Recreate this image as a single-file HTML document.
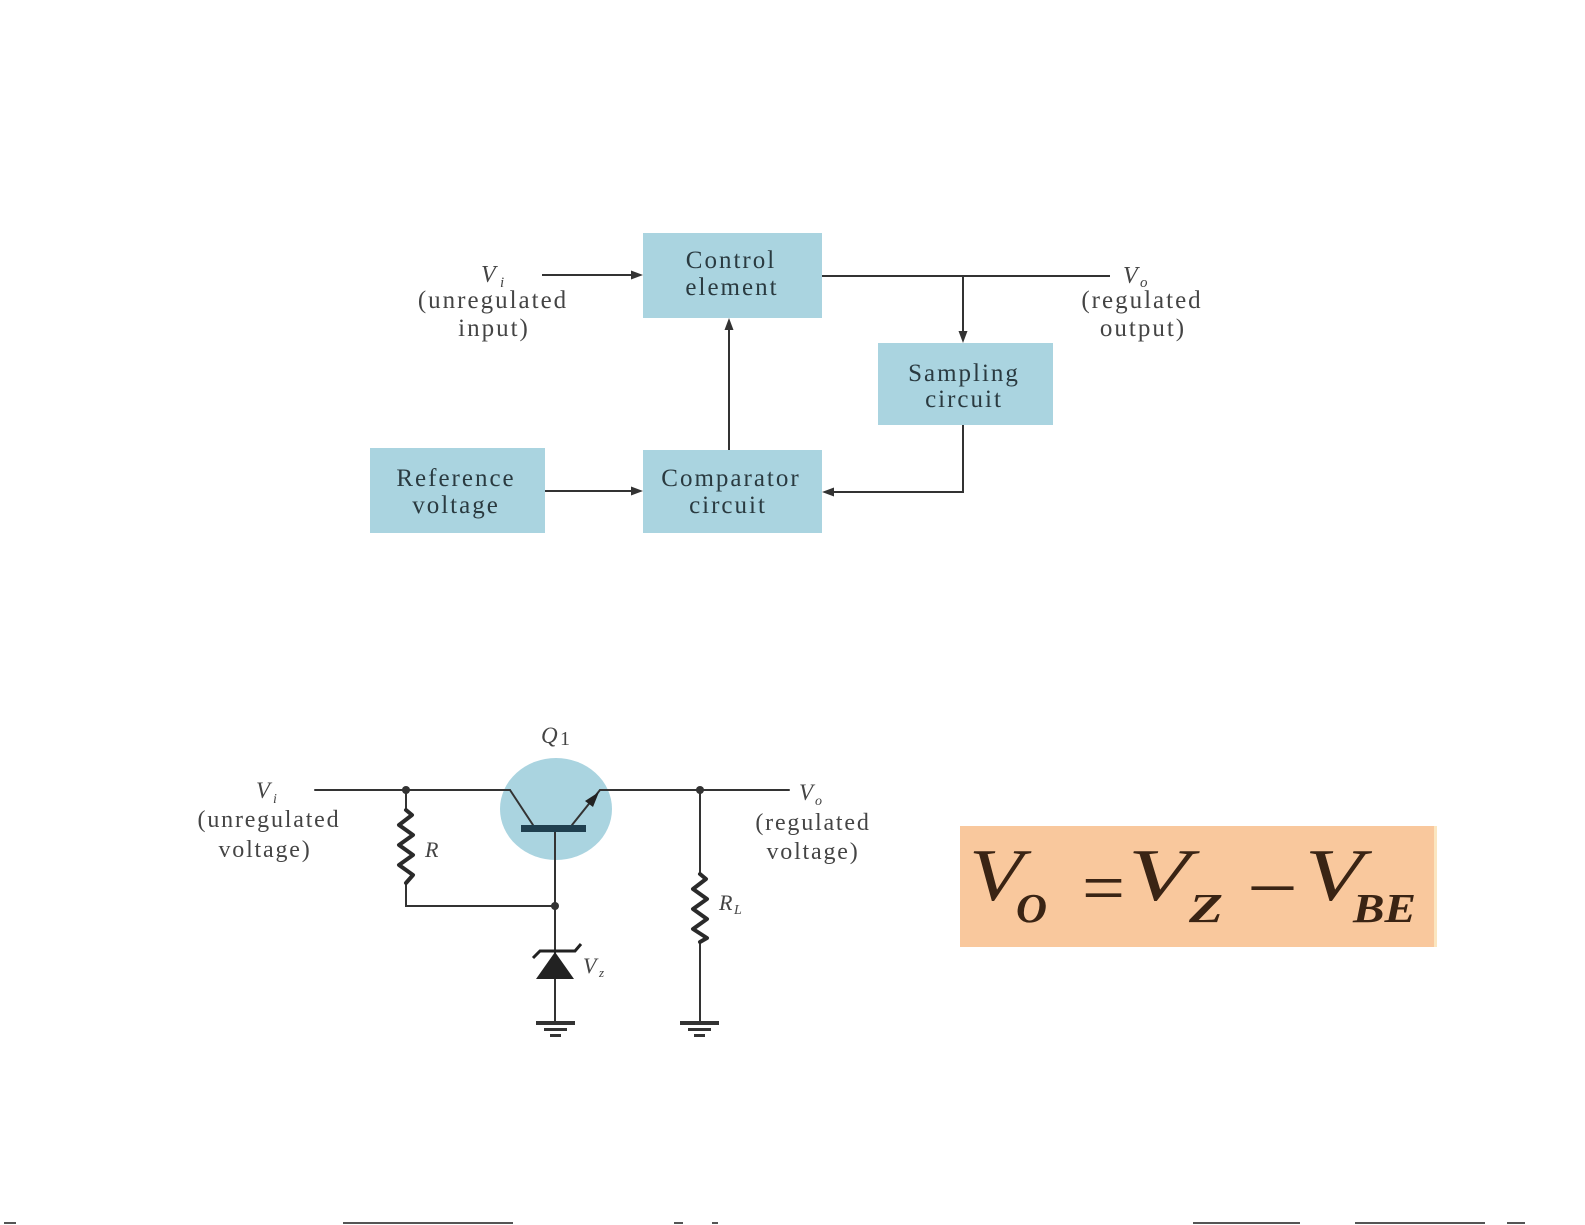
<!DOCTYPE html>
<html>
<head>
<meta charset="utf-8">
<style>
  html, body { margin:0; padding:0; background:#ffffff; }
  body { width:1585px; height:1225px; overflow:hidden; }
  svg { display:block; }
  .bt { font-family:"Liberation Serif", serif; font-size:25px; letter-spacing:2px; fill:#2a3a40; }
  .lb { font-family:"Liberation Serif", serif; font-size:25px; letter-spacing:2px; fill:#444; }
  .cl { font-family:"Liberation Serif", serif; font-size:24px; letter-spacing:1.8px; fill:#444; }
  .it { font-family:"Liberation Serif", serif; font-style:italic; fill:#444; }
  .fx { font-family:"Liberation Serif", serif; font-style:italic; fill:#3a2414; }
  .fn { font-family:"Liberation Serif", serif; fill:#3a2414; }
  .fs { font-family:"Liberation Serif", serif; font-style:italic; font-weight:bold; fill:#3a2414; }
</style>
</head>
<body>
<svg width="1585" height="1225" viewBox="0 0 1585 1225" xmlns="http://www.w3.org/2000/svg">
  <rect x="0" y="0" width="1585" height="1225" fill="#ffffff"/>

  <!-- ================= BLOCK DIAGRAM ================= -->
  <g fill="#aad4e0">
    <rect x="643" y="233" width="179" height="85"/>
    <rect x="878" y="343" width="175" height="82"/>
    <rect x="370" y="448" width="175" height="85"/>
    <rect x="643" y="450" width="179" height="83"/>
  </g>

  <g stroke="#333" stroke-width="2" fill="none">
    <line x1="542" y1="275" x2="633" y2="275"/>
    <line x1="822" y1="276" x2="1110" y2="276"/>
    <line x1="963" y1="276" x2="963" y2="333"/>
    <polyline points="963,425 963,492 832,492"/>
    <line x1="545" y1="491" x2="633" y2="491"/>
    <line x1="729" y1="450" x2="729" y2="328"/>
  </g>
  <g fill="#333">
    <polygon points="643,275 631,270.5 631,279.5"/>
    <polygon points="963,343 958.5,331 967.5,331"/>
    <polygon points="822,492 834,487.5 834,496.5"/>
    <polygon points="643,491 631,486.5 631,495.5"/>
    <polygon points="729,318 724.5,330 733.5,330"/>
  </g>

  <!-- box labels -->
  <text class="bt" x="731" y="268" text-anchor="middle">Control</text>
  <text class="bt" x="732" y="295" text-anchor="middle">element</text>
  <text class="bt" x="964" y="381" text-anchor="middle">Sampling</text>
  <text class="bt" x="964" y="407" text-anchor="middle">circuit</text>
  <text class="bt" x="456" y="486" text-anchor="middle">Reference</text>
  <text class="bt" x="456" y="513" text-anchor="middle">voltage</text>
  <text class="bt" x="731" y="486" text-anchor="middle">Comparator</text>
  <text class="bt" x="728" y="513" text-anchor="middle">circuit</text>

  <!-- input/output labels -->
  <text class="it" x="481" y="282" font-size="24">V</text>
  <text class="it" x="500" y="287" font-size="15">i</text>
  <text class="lb" x="493" y="308" text-anchor="middle">(unregulated</text>
  <text class="lb" x="494" y="336" text-anchor="middle">input)</text>

  <text class="it" x="1123" y="283" font-size="24">V</text>
  <text class="it" x="1140" y="287" font-size="15">o</text>
  <text class="lb" x="1142" y="308" text-anchor="middle">(regulated</text>
  <text class="lb" x="1143" y="336" text-anchor="middle">output)</text>

  <!-- ================= CIRCUIT ================= -->
  <ellipse cx="556" cy="809" rx="56" ry="51" fill="#aad4e0"/>

  <g stroke="#333" stroke-width="2" fill="none" stroke-linecap="round">
    <line x1="315" y1="790" x2="510" y2="790"/>
    <line x1="510" y1="790" x2="533" y2="825"/>
    <line x1="572" y1="825" x2="600" y2="790"/>
    <line x1="600" y1="790" x2="789" y2="790"/>
    <line x1="406" y1="790" x2="406" y2="810"/>
    <polyline points="406,883 406,906 555,906"/>
    <line x1="555" y1="831" x2="555" y2="953"/>
    <line x1="555" y1="978" x2="555" y2="1022"/>
    <line x1="700" y1="790" x2="700" y2="874"/>
    <line x1="700" y1="942" x2="700" y2="1022"/>
  </g>

  <g stroke="#2a2a2a" stroke-width="4" fill="none" stroke-linejoin="round" stroke-linecap="round">
    <polyline points="406,810 412,815 399,825 413,835 399,845 413,855 399,865 413,875 406,883"/>
    <polyline points="700,874 706,879 693,889 707,899 693,909 707,919 693,929 707,938 700,942"/>
  </g>

  <rect x="521" y="825" width="65" height="7" fill="#1f3f4f"/>
  <polygon points="599,792 593,807 585,801" fill="#222"/>

  <polygon points="555,952 574,979 536,979" fill="#222"/>
  <polyline points="533,958 540,951 575,951 581,944" stroke="#222" stroke-width="3" fill="none"/>

  <g fill="#333">
    <circle cx="406" cy="790" r="4"/>
    <circle cx="700" cy="790" r="4"/>
    <circle cx="555" cy="906" r="4"/>
  </g>

  <g fill="#333">
    <rect x="536" y="1021" width="39" height="4"/>
    <rect x="544" y="1028" width="23" height="3"/>
    <rect x="550" y="1034" width="11" height="3"/>
    <rect x="680" y="1021" width="39" height="4"/>
    <rect x="688" y="1028" width="23" height="3"/>
    <rect x="694" y="1034" width="11" height="3"/>
  </g>

  <!-- circuit labels -->
  <text class="it" x="541" y="743" font-size="23">Q</text>
  <text x="560" y="745" font-family="Liberation Serif, serif" font-size="20" fill="#444">1</text>

  <text class="it" x="256" y="798" font-size="23">V</text>
  <text class="it" x="273" y="803" font-size="14">i</text>
  <text class="cl" x="269" y="827" text-anchor="middle">(unregulated</text>
  <text class="cl" x="265" y="857" text-anchor="middle">voltage)</text>

  <text class="it" x="799" y="800" font-size="23">V</text>
  <text class="it" x="815" y="805" font-size="14">o</text>
  <text class="cl" x="813" y="830" text-anchor="middle">(regulated</text>
  <text class="cl" x="813" y="859" text-anchor="middle">voltage)</text>

  <text class="it" x="425" y="857" font-size="22">R</text>
  <text class="it" x="583" y="973" font-size="22">V</text>
  <text class="it" x="599" y="977" font-size="13">z</text>
  <text class="it" x="719" y="910" font-size="22">R</text>
  <text class="it" x="734" y="914" font-size="14">L</text>

  <!-- ================= FORMULA ================= -->
  <rect x="960" y="826" width="477" height="121" fill="#f9c89d"/>
  <rect x="1434" y="826" width="3" height="121" fill="#fbe6c0"/>
  <text class="fx" x="969" y="900" font-size="74" textLength="54" lengthAdjust="spacingAndGlyphs">V</text>
  <text class="fs" x="1016" y="922" font-size="41" textLength="31" lengthAdjust="spacingAndGlyphs">O</text>
  <text class="fn" x="1082" y="912" font-size="72" textLength="43" lengthAdjust="spacingAndGlyphs">=</text>
  <text class="fx" x="1128" y="900" font-size="74" textLength="62" lengthAdjust="spacingAndGlyphs">V</text>
  <text class="fs" x="1189" y="922" font-size="41" textLength="34" lengthAdjust="spacingAndGlyphs">Z</text>
  <text class="fn" x="1247" y="912" font-size="72" textLength="51" lengthAdjust="spacingAndGlyphs">−</text>
  <text class="fx" x="1305" y="900" font-size="74" textLength="58" lengthAdjust="spacingAndGlyphs">V</text>
  <text class="fs" x="1353" y="922" font-size="41" textLength="63" lengthAdjust="spacingAndGlyphs">BE</text>

  <!-- bottom scan artefacts -->
  <g fill="#555">
    <rect x="4" y="1222" width="12" height="2"/>
    <rect x="343" y="1222" width="170" height="2"/>
    <rect x="674" y="1222" width="9" height="2"/>
    <rect x="712" y="1222" width="6" height="2"/>
    <rect x="1193" y="1222" width="107" height="2"/>
    <rect x="1355" y="1222" width="130" height="2"/>
    <rect x="1507" y="1222" width="18" height="2"/>
  </g>
</svg>
</body>
</html>
